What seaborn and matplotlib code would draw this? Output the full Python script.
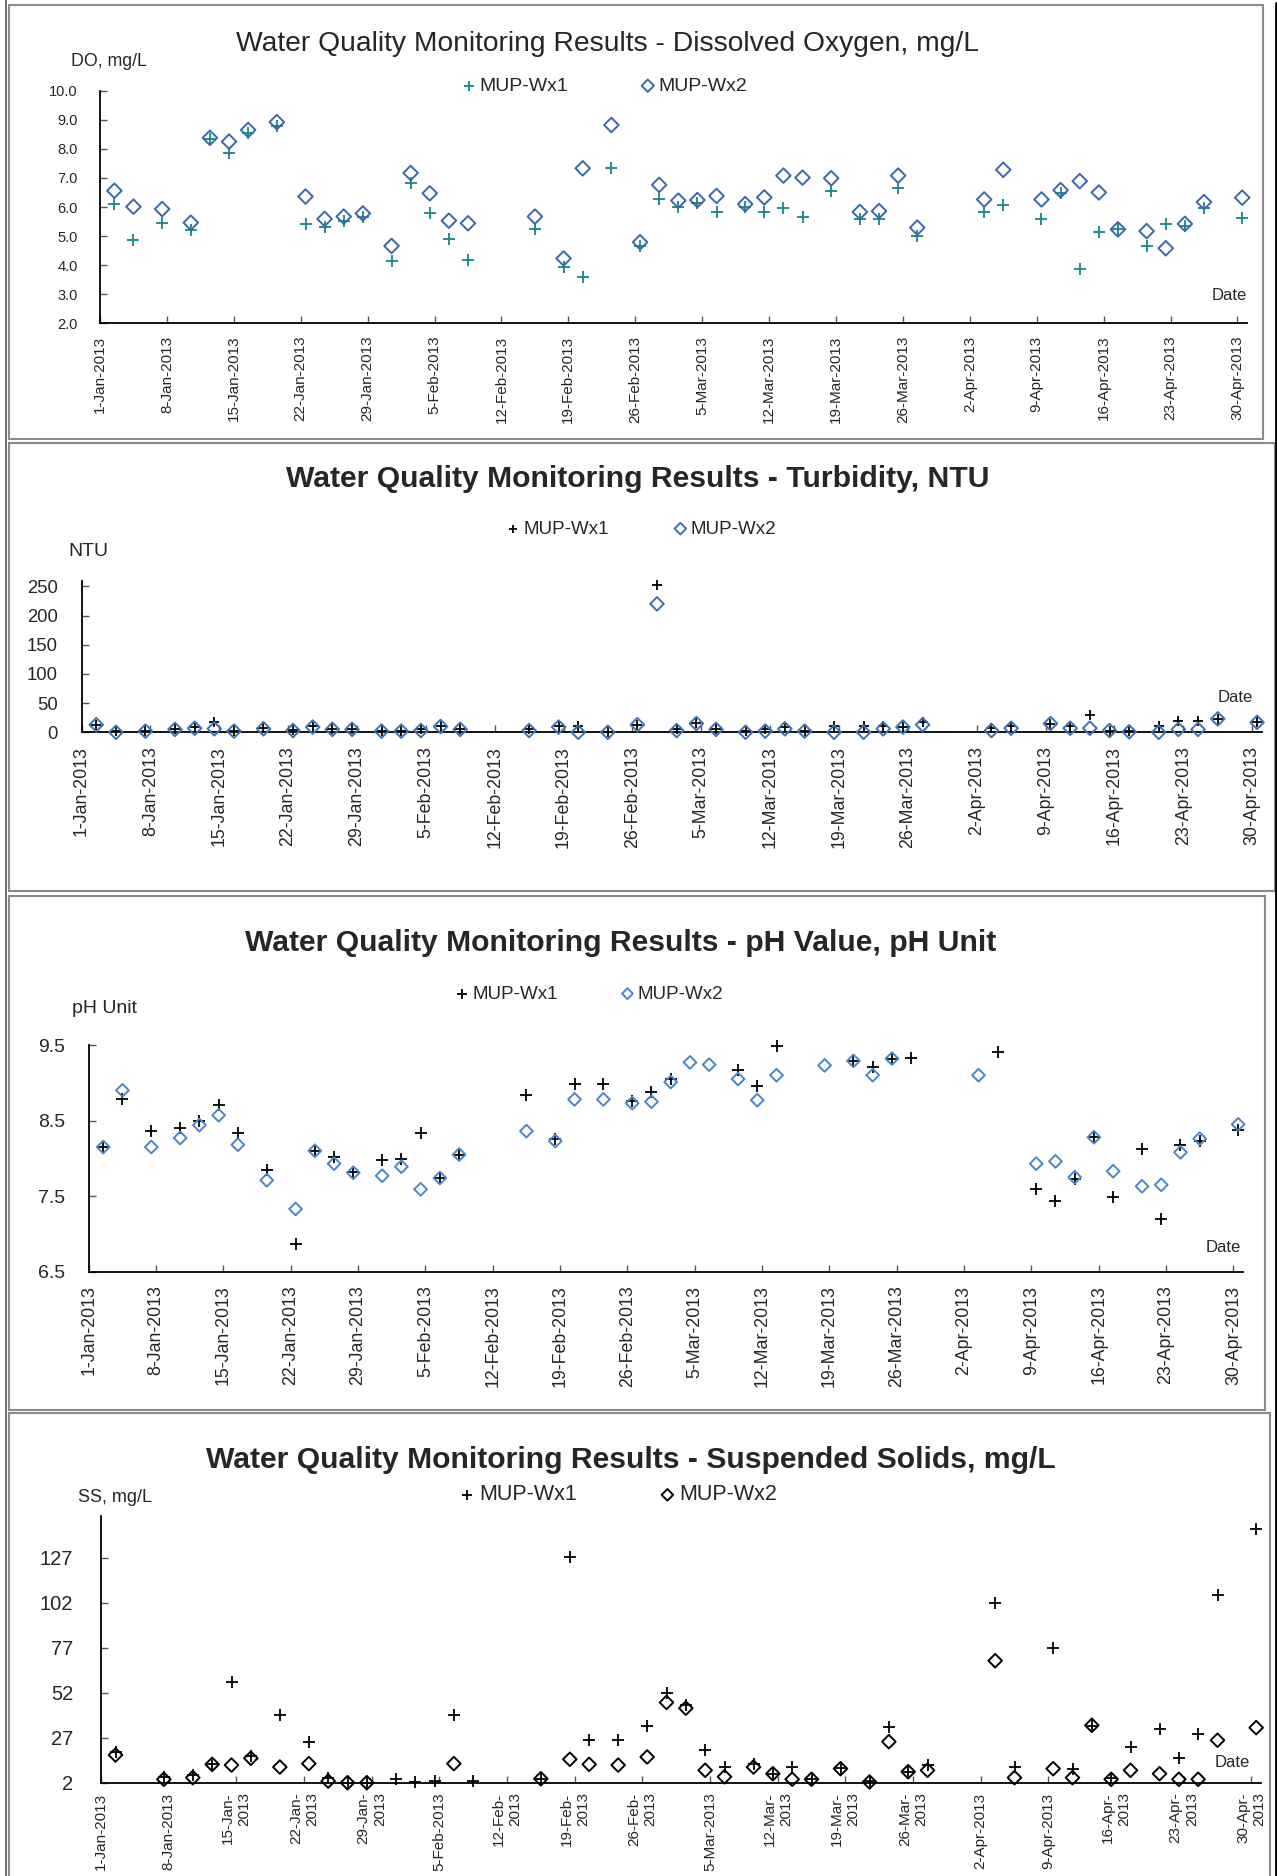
import numpy as np
import pandas as pd
import matplotlib
matplotlib.use("Agg")
import matplotlib.pyplot as plt
import seaborn as sns
from matplotlib.patches import Rectangle
from matplotlib.lines import Line2D
from matplotlib import font_manager

W, H = 1277, 1876

# sampling dates (same set for all four parameters, NaN = no reading)
dates = ["2013-01-02", "2013-01-04", "2013-01-07", "2013-01-10", "2013-01-12", "2013-01-14",
         "2013-01-16", "2013-01-19", "2013-01-22", "2013-01-24", "2013-01-26", "2013-01-28",
         "2013-01-31",
         "2013-02-02", "2013-02-04", "2013-02-06", "2013-02-08", "2013-02-15", "2013-02-18",
         "2013-02-20", "2013-02-23", "2013-02-26", "2013-02-28",
         "2013-03-02", "2013-03-04", "2013-03-06", "2013-03-09", "2013-03-11", "2013-03-13",
         "2013-03-15", "2013-03-18", "2013-03-21", "2013-03-23", "2013-03-25", "2013-03-27",
         "2013-04-03", "2013-04-05", "2013-04-09", "2013-04-11", "2013-04-13", "2013-04-15",
         "2013-04-17", "2013-04-20", "2013-04-22", "2013-04-24", "2013-04-26", "2013-04-30"]

tick_labels = ["1-Jan-2013", "8-Jan-2013", "15-Jan-2013", "22-Jan-2013", "29-Jan-2013",
               "5-Feb-2013", "12-Feb-2013", "19-Feb-2013", "26-Feb-2013", "5-Mar-2013",
               "12-Mar-2013", "19-Mar-2013", "26-Mar-2013", "2-Apr-2013", "9-Apr-2013",
               "16-Apr-2013", "23-Apr-2013", "30-Apr-2013"]
ss_tick_labels = ["1-Jan-2013", "8-Jan-2013", "15-Jan-\n2013", "22-Jan-\n2013", "29-Jan-\n2013",
                  "5-Feb-2013", "12-Feb-\n2013", "19-Feb-\n2013", "26-Feb-\n2013", "5-Mar-2013",
                  "12-Mar-\n2013", "19-Mar-\n2013", "26-Mar-\n2013", "2-Apr-2013", "9-Apr-2013",
                  "16-Apr-\n2013", "23-Apr-\n2013", "30-Apr-\n2013"]

nan = np.nan
do_wx1 = [6.09, 4.87, 5.44, 5.21, 8.33, 7.85, 8.53, 8.79, 5.42, 5.32, 5.53, 5.67, 4.15,
          6.81, 5.78, 4.89, 4.18, 5.23, 3.95, 3.60, 7.33, 4.67, 6.26,
          6.01, 6.13, 5.84, 6.01, 5.84, 5.95, 5.67, 6.55, 5.60, 5.60, 6.66, 5.00,
          5.84, 6.07, 5.59, 6.49, 3.86, 5.13, 5.23, 4.67, 5.40, 5.35, 5.98, 5.61]
do_wx2 = [6.56, 6.01, 5.93, 5.46, 8.38, 8.25, 8.65, 8.92, 6.36, 5.59, 5.67, 5.78, 4.66,
          7.17, 6.47, 5.53, 5.44, 5.67, 4.23, 7.33, 8.82, 4.79, 6.76,
          6.22, 6.24, 6.38, 6.10, 6.33, 7.08, 7.01, 6.99, 5.83, 5.86, 7.08, 5.29,
          6.26, 7.28, 6.26, 6.58, 6.89, 6.50, 5.23, 5.17, 4.58, 5.42, 6.17, 6.32]

ntu_wx1 = [13, 2, 3, 6, 9, 17, 3, 7, 4, 10, 6, 6, 3,
           3, 6, 10, 6, 5, 11, 11, 1, 13, 253,
           6, 16, 6, 2, 5, 9, 3, 10, 10, 11, 9, 17,
           7, 10, 14, 10, 30, 3, 3, 10, 20, 19, 23, 17]
ntu_wx2 = [13, 0, 2, 5, 7, 6, 2, 6, 3, 9, 5, 5, 2,
           2, 3, 10, 5, 3, 9, 0, 0, 13, 220,
           3, 15, 5, 0, 2, 6, 2, 0, 0, 6, 9, 13,
           3, 7, 15, 7, 7, 3, 1, 0, 5, 5, 23, 17]

ph_wx1 = [8.15, 8.79, 8.36, 8.40, 8.49, 8.71, 8.33, 7.85, 6.87, 8.10, 8.02, 7.82, 7.98,
          7.99, 8.34, 7.74, 8.05, 8.84, 8.25, 8.99, 8.99, 8.76, 8.88,
          9.05, nan, nan, 9.17, 8.96, 9.49, nan, nan, 9.29, 9.21, 9.32, 9.33,
          nan, 9.41, 7.60, 7.43, 7.73, 8.28, 7.49, 8.12, 7.20, 8.18, 8.23, 8.38]
ph_wx2 = [8.15, 8.90, 8.15, 8.27, 8.44, 8.57, 8.18, 7.71, 7.33, 8.10, 7.93, 7.81, 7.77,
          7.89, 7.59, 7.74, 8.05, 8.36, 8.23, 8.78, 8.78, 8.73, 8.75,
          9.01, 9.27, 9.24, 9.05, 8.77, 9.10, nan, 9.23, 9.29, 9.10, 9.32, nan,
          9.10, nan, 7.93, 7.96, 7.75, 8.28, 7.83, 7.63, 7.65, 8.08, 8.26, 8.45]

ss_wx1 = [19.1, nan, 5.2, 6.3, 12.6, 57.7, 16.9, 39.7, 24.7, 4.4, 2.0, 2.0, 3.9,
          2.4, 2.9, 39.7, 2.9, 4.2, 127.3, 25.6, 25.6, 33.6, 52.1,
          45.1, 20.0, 10.7, 12.6, 7.0, 10.7, 3.9, 10.4, 2.9, 33.0, 8.1, 11.7,
          101.7, 10.7, 76.7, 9.4, 33.6, 4.8, 22.1, 31.7, 15.6, 28.9, 106.4, 143.1]
ss_wx2 = [17.4, nan, 3.9, 4.8, 12.2, 11.8, 15.6, 10.7, 12.6, 2.9, 2.0, 2.0, nan,
          nan, nan, 12.6, nan, 4.2, 15.0, 12.2, 11.8, 16.3, 46.6,
          43.4, 8.9, 5.3, 10.7, 7.0, 3.9, 3.9, 9.8, 2.4, 24.8, 8.1, 8.9,
          69.8, 4.8, 9.8, 4.8, 33.9, 3.9, 8.9, 7.0, 3.9, 3.9, 25.6, 32.6]

sns.set_theme(style="white")
plt.rcParams['font.family'] = ['Liberation Sans', 'DejaVu Sans']
names = {f.name for f in font_manager.fontManager.ttflist}
has_narrow = 'Liberation Sans Narrow' in names
NARROW = ['Liberation Sans Narrow', 'Liberation Sans'] if has_narrow else ['Liberation Sans']

# points sit in the middle of their day, ticks at the start of the day
day = (pd.to_datetime(dates) - pd.Timestamp("2013-01-01")).days.values + 0.5
tick_pos = np.arange(0, 120, 7)

fig = plt.figure(figsize=(W / 100, H / 100), dpi=100)


def px_axes(x0, y0, x1, y1):
    return fig.add_axes([x0 / W, 1 - y1 / H, (x1 - x0) / W, (y1 - y0) / H])


def px_text(x, y, s, **kw):
    fig.text(x / W, 1 - y / H, s, **kw)


def box(x0, y0, x1, y1, color='#8a8a8a', lw=1.5):
    fig.add_artist(Rectangle((x0 / W, 1 - y1 / H), (x1 - x0) / W, (y1 - y0) / H,
                             transform=fig.transFigure, fill=False, ec=color, lw=lw))


def panel(ax, wx1, wx2, c1, c2, s1, s2, lw1=1.3, lw2=1.4):
    df = pd.DataFrame({'day': day, 'wx1': wx1, 'wx2': wx2})
    sns.scatterplot(data=df, x='day', y='wx1', marker='+', color=c1, s=s1,
                    linewidth=lw1, label='MUP-Wx1', ax=ax, clip_on=False, zorder=3)
    sns.scatterplot(data=df, x='day', y='wx2', marker='D', facecolor='none', edgecolor=c2,
                    s=s2, linewidth=lw2, label='MUP-Wx2', ax=ax, clip_on=False, zorder=4)
    ax.set_xlim(0, 120)
    ax.set_xlabel('')
    ax.set_ylabel('')
    ax.set_facecolor('none')
    for side in ['top', 'right']:
        ax.spines[side].set_visible(False)
    for side in ['left', 'bottom']:
        ax.spines[side].set_color('black')
        ax.spines[side].set_linewidth(1.3)
    ax.set_xticks(tick_pos)
    ax.tick_params(direction='in', length=5, width=1, color='#555555', left=True, bottom=True)


def legend(ax, cx, cy, size, family, spacing):
    ax.legend(loc='center', bbox_to_anchor=(cx / W, 1 - cy / H), bbox_transform=fig.transFigure,
              ncol=2, frameon=False, markerscale=0.85, handlelength=0.6, handletextpad=0.25,
              columnspacing=spacing, prop={'family': family, 'size': size})


# outer page lines
fig.add_artist(Line2D([6 / W, 6 / W], [0, 1], transform=fig.transFigure, color='#555555', lw=1.2))
fig.add_artist(Line2D([1276 / W, 1276 / W], [0, 1 - 3 / H], transform=fig.transFigure, color='black', lw=2))

# ---------------- panel 1: dissolved oxygen
box(9, 5, 1263, 439)
ax1 = px_axes(100, 90.7, 1247, 323.3)
panel(ax1, do_wx1, do_wx2, '#158585', '#3a69ab', 75, 55)
ax1.set_ylim(2, 10)
ax1.set_yticks(np.arange(2, 10.5, 1))
ax1.set_yticklabels([f'{v:.1f}' for v in np.arange(2, 10.5, 1)], fontsize=10.5)
ax1.set_xticklabels(tick_labels, rotation=90, fontsize=11)
ax1.tick_params(axis='x', pad=9)
ax1.tick_params(axis='y', pad=16)
px_text(608, 44, 'Water Quality Monitoring Results - Dissolved Oxygen, mg/L', family=NARROW,
        fontsize=22.5 if has_narrow else 20.3, ha='center', va='center')
px_text(109, 61, 'DO, mg/L', family=NARROW, fontsize=14 if has_narrow else 12.8, ha='center', va='center')
px_text(1229, 296, 'Date', family=NARROW, fontsize=14 if has_narrow else 12, ha='center', va='center')
legend(ax1, 605, 86, 15.5 if has_narrow else 14, NARROW, 3.8)

# ---------------- panel 2: turbidity
box(9, 443, 1275, 891)
ax2 = px_axes(81.5, 580.5, 1262, 732.3)
panel(ax2, ntu_wx1, ntu_wx2, 'black', '#3c72b5', 55, 48)
ax2.set_ylim(0, 260)
ax2.set_yticks([0, 50, 100, 150, 200, 250])
ax2.set_yticklabels(['0', '50', '100', '150', '200', '250'], fontsize=13.3)
ax2.set_xticklabels(tick_labels, rotation=90, fontsize=12.8)
ax2.tick_params(axis='x', pad=10)
ax2.tick_params(axis='y', pad=17)
px_text(638, 479, 'Water Quality Monitoring Results - Turbidity, NTU', fontsize=21.7,
        fontweight='bold', ha='center', va='center')
px_text(88, 552, 'NTU', fontsize=14, ha='center', va='center')
px_text(1235, 697, 'Date', family=NARROW, fontsize=14 if has_narrow else 12, ha='center', va='center')
legend(ax2, 642, 529, 13.5, ['Liberation Sans'], 3.5)

# ---------------- panel 3: pH
box(9, 896, 1265, 1410)
ax3 = px_axes(88.8, 1045, 1243, 1271.7)
panel(ax3, ph_wx1, ph_wx2, 'black', '#4a86c8', 65, 42)
ax3.set_ylim(6.5, 9.5)
ax3.set_yticks([6.5, 7.5, 8.5, 9.5])
ax3.set_yticklabels(['6.5', '7.5', '8.5', '9.5'], fontsize=14)
ax3.set_xticklabels(tick_labels, rotation=90, fontsize=12.8)
ax3.tick_params(axis='x', pad=10)
ax3.tick_params(axis='y', pad=17)
px_text(621, 943, 'Water Quality Monitoring Results - pH Value, pH Unit', fontsize=21.7,
        fontweight='bold', ha='center', va='center')
px_text(104, 1008, 'pH Unit', fontsize=14, ha='center', va='center')
px_text(1223, 1248, 'Date', family=NARROW, fontsize=14 if has_narrow else 12, ha='center', va='center')
legend(ax3, 590, 994, 13.5, ['Liberation Sans'], 3.4)

# ---------------- panel 4: suspended solids
box(9, 1413, 1270, 1890)
ax4 = px_axes(101, 1516.4, 1261, 1782.7)
panel(ax4, ss_wx1, ss_wx2, 'black', 'black', 65, 48)
ax4.set_ylim(2, 150)
ax4.set_yticks([2, 27, 52, 77, 102, 127])
ax4.set_yticklabels(['2', '27', '52', '77', '102', '127'], fontsize=14.5)
ax4.set_xticklabels(ss_tick_labels, rotation=90, fontsize=11, multialignment='right')
ax4.tick_params(axis='x', pad=7)
ax4.tick_params(axis='y', pad=20)
px_text(631, 1460, 'Water Quality Monitoring Results - Suspended Solids, mg/L', fontsize=21.7,
        fontweight='bold', ha='center', va='center')
px_text(115, 1498, 'SS, mg/L', fontsize=13, ha='center', va='center')
px_text(1232, 1762, 'Date', family=NARROW, fontsize=14 if has_narrow else 12, ha='center', va='center')
legend(ax4, 619, 1495, 15.5, ['Liberation Sans'], 3.9)

fig.savefig('out.png', dpi=100)
